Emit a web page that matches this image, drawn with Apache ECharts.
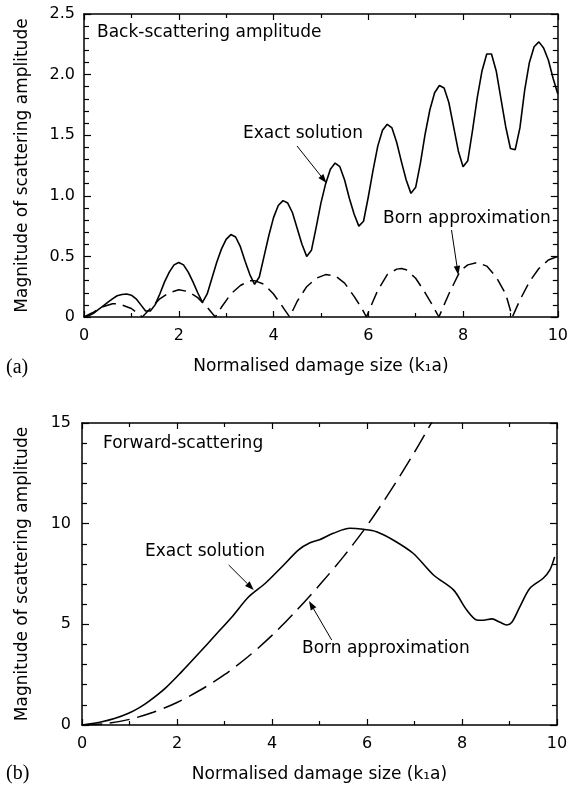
<!DOCTYPE html>
<html>
<head>
<meta charset="utf-8">
<script src="https://cdn.jsdelivr.net/npm/echarts@6/dist/echarts.min.js"></script>
<style>html,body{margin:0;padding:0;background:#fff}#c{width:571px;height:785px}</style>
</head>
<body>
<div id="c"></div>
<script>
// ---- data: (a) back-scattering ----
const topExactK = [0,0.1,0.2,0.3,0.4,0.5,0.6,0.7,0.8,0.9,1.0,1.1,1.2,1.3,1.4,1.5,1.6,1.7,1.8,1.9,2.0,2.1,2.2,2.3,2.4,2.5,2.6,2.7,2.8,2.9,3.0,3.1,3.2,3.3,3.4,3.5,3.6,3.7,3.8,3.9,4.0,4.1,4.2,4.3,4.4,4.5,4.6,4.7,4.8,4.9,5.0,5.1,5.2,5.3,5.4,5.5,5.6,5.7,5.8,5.9,6.0,6.1,6.2,6.3,6.4,6.5,6.6,6.7,6.8,6.9,7.0,7.1,7.2,7.3,7.4,7.5,7.6,7.7,7.8,7.9,8.0,8.1,8.2,8.3,8.4,8.5,8.6,8.7,8.8,8.9,9.0,9.1,9.2,9.3,9.4,9.5,9.6,9.7,9.8,9.9,10.0];
const topExactV = [0,0.01,0.03,0.06,0.09,0.12,0.15,0.175,0.185,0.19,0.18,0.15,0.10,0.05,0.05,0.10,0.19,0.29,0.37,0.43,0.45,0.43,0.37,0.29,0.20,0.12,0.19,0.32,0.45,0.56,0.64,0.68,0.66,0.58,0.46,0.35,0.27,0.33,0.50,0.67,0.82,0.92,0.96,0.94,0.86,0.73,0.60,0.50,0.55,0.74,0.94,1.10,1.22,1.27,1.24,1.13,0.98,0.85,0.75,0.79,0.99,1.21,1.41,1.54,1.59,1.56,1.44,1.28,1.13,1.02,1.07,1.27,1.51,1.71,1.85,1.91,1.89,1.77,1.57,1.37,1.24,1.29,1.54,1.81,2.03,2.17,2.17,2.03,1.80,1.57,1.39,1.38,1.56,1.87,2.10,2.23,2.27,2.22,2.12,1.97,1.84];
const topBornK = [0,0.2,0.4,0.6,0.7,0.8,1.0,1.1,1.23,1.4,1.6,1.8,2.0,2.2,2.4,2.6,2.77,2.9,3.1,3.3,3.5,3.6,3.8,4.0,4.2,4.34,4.5,4.7,4.9,5.1,5.3,5.5,5.7,5.85,5.96,6.1,6.2,6.4,6.6,6.7,6.8,7.0,7.2,7.35,7.49,7.6,7.7,7.8,7.9,8.0,8.1,8.3,8.5,8.7,8.9,9.04,9.2,9.4,9.6,9.8,10.0];
const topBornV = [0,0.04,0.085,0.11,0.11,0.10,0.07,0.04,0,0.07,0.15,0.20,0.225,0.21,0.16,0.08,0,0.08,0.19,0.26,0.30,0.30,0.27,0.19,0.08,0,0.13,0.25,0.32,0.35,0.34,0.28,0.17,0.08,0,0.13,0.22,0.35,0.395,0.40,0.39,0.32,0.20,0.10,0,0.10,0.19,0.27,0.35,0.40,0.43,0.45,0.42,0.33,0.19,0,0.14,0.29,0.40,0.47,0.50];
// ---- data: (b) forward-scattering ----
const botExactK = [0,0.42,0.7,0.98,1.2,1.4,1.75,2.1,2.46,2.81,3.16,3.51,3.86,4.21,4.56,4.8,5.0,5.29,5.64,5.92,6.2,6.55,6.97,7.4,7.82,8.1,8.31,8.45,8.63,8.8,8.94,9.05,9.22,9.43,9.71,9.85,9.95];
const botExactV = [0,0.16,0.33,0.58,0.85,1.16,1.82,2.65,3.56,4.47,5.38,6.37,7.04,7.86,8.7,9.05,9.2,9.52,9.77,9.72,9.6,9.19,8.53,7.45,6.71,5.71,5.22,5.2,5.27,5.1,4.97,5.1,5.88,6.79,7.29,7.7,8.35];
const botBornK = [0,0.5,1.0,1.5,2.0,2.5,3.0,3.5,4.0,4.5,5.0,5.5,6.0,6.5,7.0,7.5];
const botBornV = [0,0.07,0.28,0.63,1.12,1.75,2.5,3.4,4.45,5.65,6.95,8.35,9.9,11.65,13.55,15.6];
const xTicks = [0,2,4,6,8,10];
const topYTicks = ['0','0.5','1.0','1.5','2.0','2.5'];
const botYTicks = ['0','5','10','15'];

const zip = (a,b) => a.map((v,i)=>[v,b[i]]);
const FONT = 'DejaVu Sans';
const BLACK = '#000';

function xAx(grid, pos, labels, name) {
  return {
    type:'value', gridIndex:grid, position:pos, min:0, max:10, interval:2,
    axisLine:{show:true, onZero:false, lineStyle:{color:BLACK, width:1.5}},
    axisTick:{show:true, inside:true, length:6, lineStyle:{color:BLACK, width:1.2}},
    minorTick:{show:true, splitNumber:2, length:4, lineStyle:{color:BLACK, width:1.2}},
    splitLine:{show:false},
    axisLabel:{show:labels, margin:11, color:BLACK, fontFamily:FONT, fontSize:16,
      formatter:v=> xTicks.includes(v) ? String(v) : ''},
    name: name || '', nameLocation:'middle', nameGap:41,
    nameTextStyle:{color:BLACK, fontFamily:FONT, fontSize:17}
  };
}
function yAx(grid, pos, labels, max, interval, tickLabels, name, gap, margin) {
  return {
    type:'value', gridIndex:grid, position:pos, min:0, max:max, interval:interval,
    axisLine:{show:true, onZero:false, lineStyle:{color:BLACK, width:1.5}},
    axisTick:{show:true, inside:true, length:7, lineStyle:{color:BLACK, width:1.2}},
    minorTick:{show:true, splitNumber:5, length:5, lineStyle:{color:BLACK, width:1.2}},
    splitLine:{show:false},
    axisLabel:{show:labels, margin:margin, color:BLACK, fontFamily:FONT, fontSize:16,
      formatter:v=> tickLabels[Math.round(v/interval)] ?? ''},
    name: name || '', nameLocation:'middle', nameGap:gap,
    nameTextStyle:{color:BLACK, fontFamily:FONT, fontSize:17}
  };
}
function txt(x, y, s, extra) {
  return {type:'text', x:x, y:y, style:Object.assign({text:s, fill:BLACK, font:'17px "'+FONT+'"', verticalAlign:'middle', align:'left'}, extra||{})};
}
function arrow(x1,y1,x2,y2){
  const dx=x2-x1, dy=y2-y1, L=Math.hypot(dx,dy), ux=dx/L, uy=dy/L, hl=9, hw=3.2;
  const bx=x2-ux*hl, by=y2-uy*hl;
  return [
    {type:'line', shape:{x1:x1,y1:y1,x2:bx,y2:by}, style:{stroke:BLACK, lineWidth:1}},
    {type:'polygon', shape:{points:[[x2,y2],[bx-uy*hw,by+ux*hw],[bx+uy*hw,by-ux*hw]]}, style:{fill:BLACK}}
  ];
}

const chart = echarts.init(document.getElementById('c'), null, {renderer:'canvas'});
const NAME_Y = 'Magnitude of scattering amplitude';
const NAME_X = 'Normalised damage size (k\u2081a)';
chart.setOption({
  animation:false,
  backgroundColor:'#fff',
  grid:[
    {left:84, top:14, width:475, height:303},
    {left:82, top:423, width:475, height:302}
  ],
  xAxis:[
    xAx(0,'bottom',true,NAME_X),
    xAx(0,'top',false),
    xAx(1,'bottom',true,NAME_X),
    xAx(1,'top',false)
  ],
  yAxis:[
    yAx(0,'left',true,2.5,0.5,topYTicks,NAME_Y,53,9),
    yAx(0,'right',false,2.5,0.5,topYTicks,'',0,9),
    yAx(1,'left',true,15,5,botYTicks,NAME_Y,51,11),
    yAx(1,'right',false,15,5,botYTicks,'',0,11)
  ],
  series:[
    {type:'line', xAxisIndex:0, yAxisIndex:0, data:zip(topExactK,topExactV), showSymbol:false, symbol:'none',
     lineStyle:{color:BLACK, width:1.6}, clip:true},
    {type:'line', xAxisIndex:0, yAxisIndex:0, data:zip(topBornK,topBornV), showSymbol:false, symbol:'none',
     lineStyle:{color:BLACK, width:1.5, type:[14,7]}, clip:true},
    {type:'line', xAxisIndex:2, yAxisIndex:2, data:zip(botExactK,botExactV), showSymbol:false, symbol:'none', smooth:0.3,
     lineStyle:{color:BLACK, width:1.6}, clip:true},
    {type:'line', xAxisIndex:2, yAxisIndex:2, data:zip(botBornK,botBornV), showSymbol:false, symbol:'none', smooth:0.3,
     lineStyle:{color:BLACK, width:1.5, type:[20,8]}, clip:true}
  ],
  graphic:[
    txt(97,33,'Back-scattering amplitude'),
    txt(243,134,'Exact solution'),
    txt(383,219,'Born approximation'),
    txt(103,444,'Forward-scattering'),
    txt(145,552,'Exact solution'),
    txt(302,649,'Born approximation'),
    txt(6,368,'(a)',{font:'20px "Liberation Serif"'}),
    txt(6,774,'(b)',{font:'20px "Liberation Serif"'}),
    ...arrow(297,146,326.5,183),
    ...arrow(451.5,230,458.3,275),
    ...arrow(228.7,565,253.7,590),
    ...arrow(331.7,640,309,601)
  ]
});
</script>
</body>
</html>
